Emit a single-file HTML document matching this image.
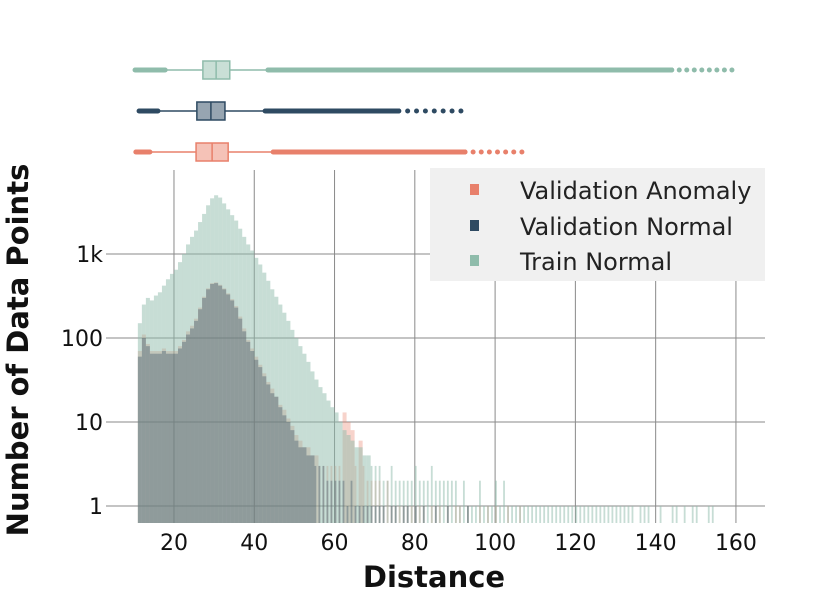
<!DOCTYPE html>
<html><head><meta charset="utf-8">
<style>
body{margin:0;background:#fff;}
svg{display:block;font-family:"DejaVu Sans","Liberation Sans",sans-serif;}
</style></head>
<body>
<svg id="chart" width="830" height="598" viewBox="0 0 830 598" xmlns="http://www.w3.org/2000/svg">
<g id="grid"></g>
<g id="bars"></g>
<g id="boxes"></g>
<g id="axes"></g>
<g>
<rect x="430" y="168" width="335" height="113" fill="#f0f0f0"/>
<g><rect x="470" y="184" width="9" height="11" fill="#e8806b"/><text x="520" y="199" font-size="24" fill="#222">Validation Anomaly</text></g>
<g><rect x="470" y="220" width="9" height="11" fill="#2e4a62"/><text x="520" y="235" font-size="24" fill="#222">Validation Normal</text></g>
<g><rect x="470" y="255" width="9" height="11" fill="#8fbcab"/><text x="520" y="270" font-size="24" fill="#222">Train Normal</text></g>
</g>
<text x="434" y="587" font-size="29" font-weight="bold" text-anchor="middle" fill="#111">Distance</text>
<text transform="translate(28,350) rotate(-90)" font-size="29" font-weight="bold" text-anchor="middle" fill="#111">Number of Data Points</text>
</svg>
<script>
const binStart = 11;
const trainNormal = [150,250,300,280,320,350,420,500,580,650,800,1000,1300,1600,1900,2400,3000,3800,4600,5000,4700,4000,3400,2900,2500,2000,1600,1300,1100,900,750,600,480,380,310,250,200,160,125,100,80,65,52,40,32,26,22,18,15,13,10,8,7,6,5,5,4,4,3,3,3,2,2,3,2,2,2,2,2,3,2,2,2,3,2,2,2,2,2,2,1,2,1,1,1,2,1,1,1,2,1,2,1,1,1,1,1,1,1,1,1,1,1,1,1,1,1,1,1,1,1,1,1,1,1,1,1,1,1,1,1,1,1,1,0,1,1,1,0,0,1,0,0,1,1,0,1,0,1,1,0,0,1,1,0,0];
const valNormal = [60,100,80,65,65,65,70,65,65,65,75,90,110,130,160,220,300,380,440,450,420,380,330,280,230,170,120,90,70,55,45,35,28,22,20,15,12,10,8,6,5,5,4,4,3,3,3,2,2,2,2,2,1,2,1,1,1,1,1,1,1,1,0,1,1,0,1,1,0,1,0,1,0,0,1,0,0,1,0,0,0,0,1];
const valAnomaly = [70,110,85,70,70,70,75,70,70,70,80,95,120,140,170,230,310,390,450,460,430,390,340,290,240,180,130,95,75,60,48,38,30,25,20,16,14,11,9,7,6,5,5,4,4,3,3,3,3,3,3,13,10,8,3,6,3,2,2,2,2,1,2,1,1,1,1,1,1,1,1,1,0,1,1,1,0,1,0,1,1,0,1,0,0,1,0,1,0,1,0,0,1,0,0,1,0,0];
const xTicks = [20,40,60,80,100,120,140,160];
const yTicks = [1,10,100,1000];
const yTickLabels = ["1","10","100","1k"];
// box stats: [leftOutlierMin, whiskerLo, q1, median, q3, whiskerHi, denseOutlierMax, sparseOutlierMax]
const trainBox = [10.3,17.8,27.2,30.5,33.9,43.4,144,159];
const valNormalBox = [11.3,16,25.7,29.2,32.7,42.7,76,93.7];
const valAnomalyBox = [10.5,14,25.5,29.5,33.5,44.7,92.5,108.7];

const NS="http://www.w3.org/2000/svg";
const X0=135,X1=765,Y0=170,YB=523;
function xs(v){return 93.7+v*4.014;}
function ys(v){return 506-Math.log10(v)*84;}
function mk(tag,attrs,parent){const e=document.createElementNS(NS,tag);for(const k in attrs)e.setAttribute(k,attrs[k]);parent.appendChild(e);return e;}
const grid=document.getElementById('grid'),bars=document.getElementById('bars'),axes=document.getElementById('axes'),boxes=document.getElementById('boxes');
xTicks.forEach(t=>{
  const l=mk('line',{x1:xs(t),x2:xs(t),y1:Y0,y2:YB,stroke:'#8a8a8a','stroke-width':1},grid);
  
  
  const tx=mk('text',{x:xs(t),y:550,'font-size':22,'text-anchor':'middle',fill:'#111'},axes);
  tx.textContent=t;
  
  
});
yTicks.forEach((t,i)=>{
  const l=mk('line',{x1:106,x2:X1,y1:ys(t),y2:ys(t),stroke:'#8a8a8a','stroke-width':1},grid);
  
  
  const tx=mk('text',{x:103,y:ys(t)+8,'font-size':22,'text-anchor':'end',fill:'#111'},axes);
  tx.textContent=yTickLabels[i];
  
  
});
function drawHist(arr,color,op,name){
  arr.forEach((v,i)=>{
    if(v<=0)return;
    const b=binStart+i;
    const x=xs(b),w=xs(b+1)-xs(b);
    const y=ys(v);
    const ww = v<=3 ? w*0.45 : w;
    const r=mk('rect',{x:x,y:y,width:ww,height:YB-y,fill:color,'fill-opacity':op},bars);
    
    
  });
}
drawHist(valAnomaly,'#e8806b',0.35,'bar-validation-anomaly');
drawHist(trainNormal,'#8fbcab',0.5,'bar-train-normal');
drawHist(valNormal,'#2e4a62',0.35,'bar-validation-normal');

function drawBox(s,cy,stroke,fill,name){
  const g=mk('g',{},boxes);
  
  
  mk('line',{x1:xs(s[1]),x2:xs(s[2]),y1:cy,y2:cy,stroke:stroke,'stroke-width':1.5},g);
  mk('line',{x1:xs(s[4]),x2:xs(s[5]),y1:cy,y2:cy,stroke:stroke,'stroke-width':1.5},g);
  mk('line',{x1:xs(s[0]),x2:xs(s[1]),y1:cy,y2:cy,stroke:stroke,'stroke-width':5,'stroke-linecap':'round'},g);
  mk('line',{x1:xs(s[5]),x2:xs(s[6]),y1:cy,y2:cy,stroke:stroke,'stroke-width':5,'stroke-linecap':'round'},g);
  for(let v=s[6];v<=s[7];v+=(s[7]-s[6])/8){mk('circle',{cx:xs(v),cy:cy,r:2.5,fill:stroke},g);}
  mk('rect',{x:xs(s[2]),y:cy-9,width:xs(s[4])-xs(s[2]),height:18,fill:fill,stroke:stroke,'stroke-width':1.5},g);
  mk('line',{x1:xs(s[3]),x2:xs(s[3]),y1:cy-9,y2:cy+9,stroke:stroke,'stroke-width':1.5},g);
}
drawBox(trainBox,70,'#8fbcab','#c9dfd6','box-train-normal');
drawBox(valNormalBox,111,'#2e4a62','#97a5b1','box-validation-normal');
drawBox(valAnomalyBox,152,'#e8806b','#f5c2b7','box-validation-anomaly');
</script>
</body></html>
